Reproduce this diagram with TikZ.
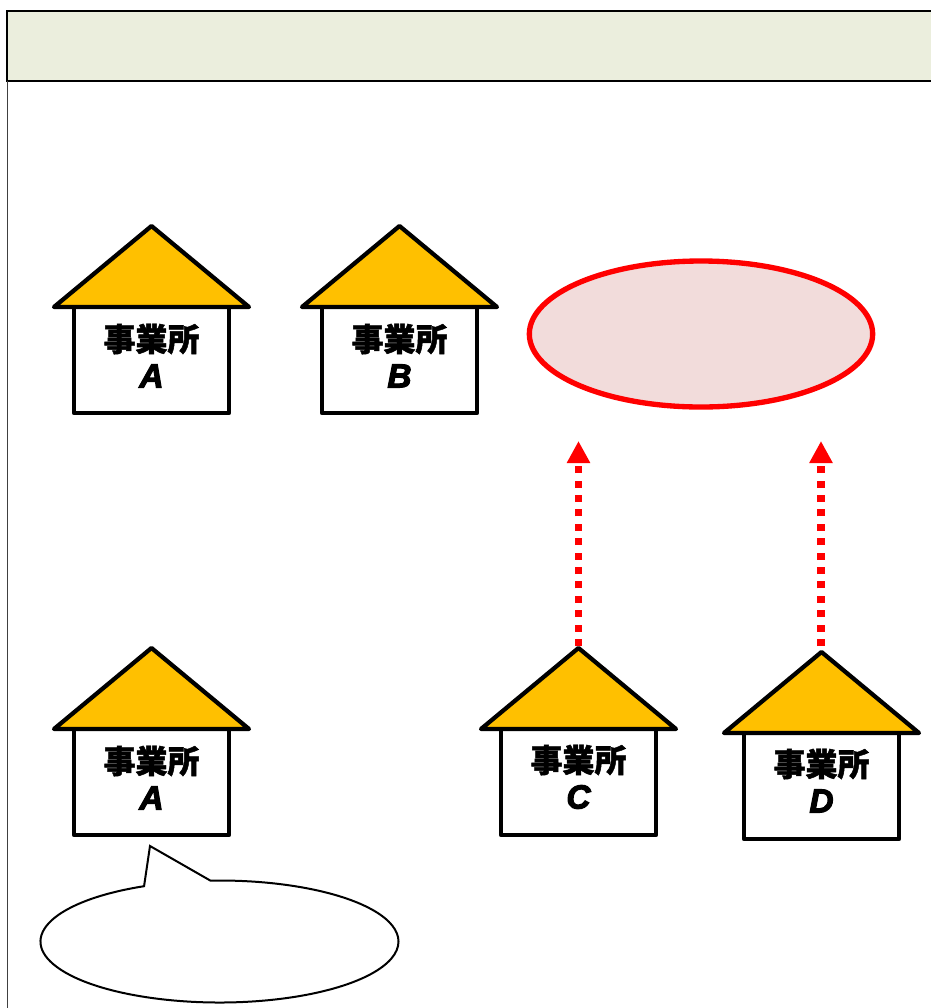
\documentclass[tikz,border=0pt]{standalone}
\usepackage{fontspec}
\setmainfont{Liberation Sans}
\newfontfamily\jpfont[FakeBold=1.5]{Noto Sans CJK JP Black}
\newfontfamily\latinheavy[FakeBold=3.5]{Liberation Sans Bold Italic}
\usetikzlibrary{shapes.geometric,shapes.callouts,arrows.meta}
\definecolor{roofc}{HTML}{FFC000}
\definecolor{headc}{HTML}{EBEEDD}
\definecolor{pinkc}{HTML}{F2DCDB}
\tikzset{
  wall/.style={draw=black,line width=3.2pt,fill=white,line join=round,rectangle,minimum width=116.25pt,minimum height=79.5pt,inner sep=0pt},
  roof/.style={draw=black,line width=3.2pt,fill=roofc,line join=round},
  jplabel/.style={inner sep=0pt,font=\jpfont\fontsize{24pt}{24pt}\selectfont},
  letterlabel/.style={inner sep=0pt,font=\latinheavy\fontsize{25pt}{25pt}\selectfont},
  moveup/.style={draw=red,line width=5.3pt,dash pattern=on 5.25pt off 5.55pt,-{Triangle[length=16.5pt,width=16.5pt]}},
  frameline/.style={draw=black,line width=1.5pt},
}
% name, centre x, eaves y, letter, text offset
\newcommand{\myhouse}[5]{%
  \node[wall] (#1body) at (#2,#3+53) {};
  \coordinate (#1apex) at (#2,#3-81);
  \coordinate (#1l) at (#2-97.5,#3);
  \coordinate (#1r) at (#2+97.5,#3);
  \path[roof] (#1apex) -- (#1l) -- (#1r) -- cycle;
  \node[jplabel] (#1jp) at (#2,#3+32+#5) {事業所};
  \node[letterlabel] (#1let) at (#2,#3+69+#5) {#4};
}
\begin{document}
\begin{tikzpicture}[x=0.75pt,y=-0.75pt]
\useasboundingbox (0,0) rectangle (931,1008);
% frame
\fill[headc] (7,10.5) rectangle (931,80.5);
\draw[frameline] (931,10.5) -- (7,10.5) -- (7,80.5) -- (931,80.5);
\draw[draw=black!75,line width=1.3pt] (7.5,80.5) -- (7.5,1008);
% houses
\myhouse{a}{151.5}{307}{A}{0}
\myhouse{b}{399.5}{307}{B}{0}
\myhouse{aa}{151.5}{729}{A}{0}
\myhouse{c}{578.5}{729}{C}{-1}
\myhouse{d}{821.5}{733}{D}{-1}
% merged-office ellipse
\node[ellipse,draw=red,line width=4pt,fill=pinkc,minimum width=257.5pt,minimum height=109.5pt,inner sep=0pt] (merged) at (701,334) {};
% arrows
\coordinate (ctop) at (578.5,441);
\coordinate (dtop) at (821,441);
\draw[moveup] (capex) ++(0,-2) -- (ctop);
\draw[moveup] (dapex) ++(-0.5,-6) -- (dtop);
% callout
\coordinate (tip) at (150,846);
\node[ellipse callout,draw=black,line width=1.5pt,fill=white,minimum width=268.5pt,minimum height=91.5pt,inner sep=0pt,callout absolute pointer={(tip)},callout pointer arc=22] (note) at (219.5,941.5) {};
\end{tikzpicture}
\end{document}
